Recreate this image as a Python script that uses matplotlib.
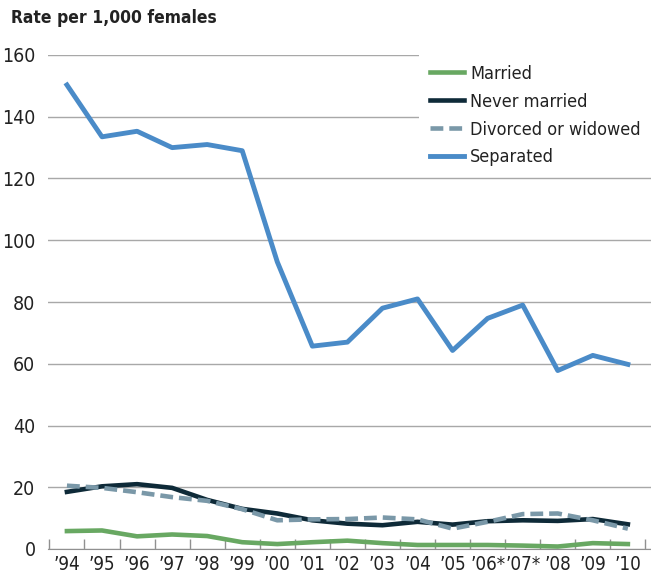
'''
Pregnancy rate per 1,000 females by marital status, 1994-2010
'''

import numpy as np
import matplotlib.pyplot as plt
from matplotlib.ticker import FixedLocator

years = ['\u201994', '\u201995', '\u201996', '\u201997', '\u201998', '\u201999', '\u201900',
         '\u201901', '\u201902', '\u201903', '\u201904', '\u201905', '\u201906*', '\u201907*',
         '\u201908', '\u201909', '\u201910']

married = [5.8, 6.0, 4.1, 4.7, 4.2, 2.2, 1.6, 2.2, 2.7, 1.9, 1.3, 1.3, 1.3, 1.1, 0.8, 1.9, 1.6]
never_married = [18.5, 20.3, 21.0, 19.8, 15.9, 13.0, 11.5, 9.3, 8.2, 7.7, 8.8, 7.9, 9.0, 9.3, 9.1, 9.7, 8.0]
divorced_widowed = [20.5, 19.8, 18.4, 16.8, 15.6, 12.9, 9.3, 9.6, 9.7, 10.2, 9.6, 6.6, 8.8, 11.3, 11.5, 9.3, 6.6]
separated = [150.3, 133.5, 135.3, 130.0, 131.0, 129.0, 93.0, 65.7, 67.0, 78.0, 81.0, 64.3, 74.7, 79.0, 57.8, 62.7, 59.8]


def rate_chart():
    '''
    line chart of rates by marital status
    '''
    plt.rcParams['font.family'] = ['DejaVu Sans']
    plt.rcParams['font.stretch'] = 'condensed'
    fig = plt.figure(figsize=(6.51, 5.78), dpi=100)
    ax_ = fig.add_axes([48 / 651, 1 - 549 / 578, 1 - 48 / 651, (549 - 55) / 578])

    x = np.arange(len(years))
    ax_.plot(x, married, color='#68a862', lw=3.3, label='Married', zorder=3)
    ax_.plot(x, never_married, color='#0e2a38', lw=3.3, label='Never married', zorder=3)
    ax_.plot(x, divorced_widowed, color='#7a98a8', lw=3.3, ls=(0, (2.8, 1.3)),
             label='Divorced or widowed', zorder=3)
    ax_.plot(x, separated, color='#4a8bc8', lw=3.5, label='Separated', zorder=4)

    ax_.set_ylim(0, 160)
    ax_.set_xlim(-0.54, 16.66)
    ax_.set_yticks(range(0, 161, 20))
    ax_.yaxis.grid(True, color='#a8a8a8', lw=1)
    ax_.set_axisbelow(True)
    ax_.tick_params(axis='y', length=0, labelsize=14, pad=9, labelcolor='#222222')

    ax_.set_xticks(x)
    ax_.set_xticklabels(years)
    ax_.xaxis.set_minor_locator(FixedLocator(np.arange(-0.5, 17, 1)))
    ax_.tick_params(axis='x', which='major', length=0, labelsize=13.5, pad=4,
                    labelcolor='#222222')
    ax_.tick_params(axis='x', which='minor', direction='in', length=7, color='#909090', width=1)

    for side in ['left', 'right', 'top']:
        ax_.spines[side].set_visible(False)
    ax_.spines['bottom'].set_color('#909090')

    leg = ax_.legend(loc='upper right', bbox_to_anchor=(0.995, 0.995), frameon=True,
                     fontsize=13, handlelength=1.9, handletextpad=0.35,
                     labelspacing=0.55, borderpad=0.4, borderaxespad=0.0)
    leg.get_frame().set_edgecolor('none')
    leg.get_frame().set_facecolor('white')
    leg.get_frame().set_alpha(1.0)
    leg.get_frame().set_boxstyle('square', pad=0.2)
    for txt in leg.get_texts():
        txt.set_color('#222222')

    fig.text(11 / 651, 1 - 18 / 578, 'Rate per 1,000 females', fontsize=12.5,
             fontweight='bold', va='center', ha='left', color='#222222')

    plt.savefig('out.png', dpi=100)


if __name__ == "__main__":
    rate_chart()
